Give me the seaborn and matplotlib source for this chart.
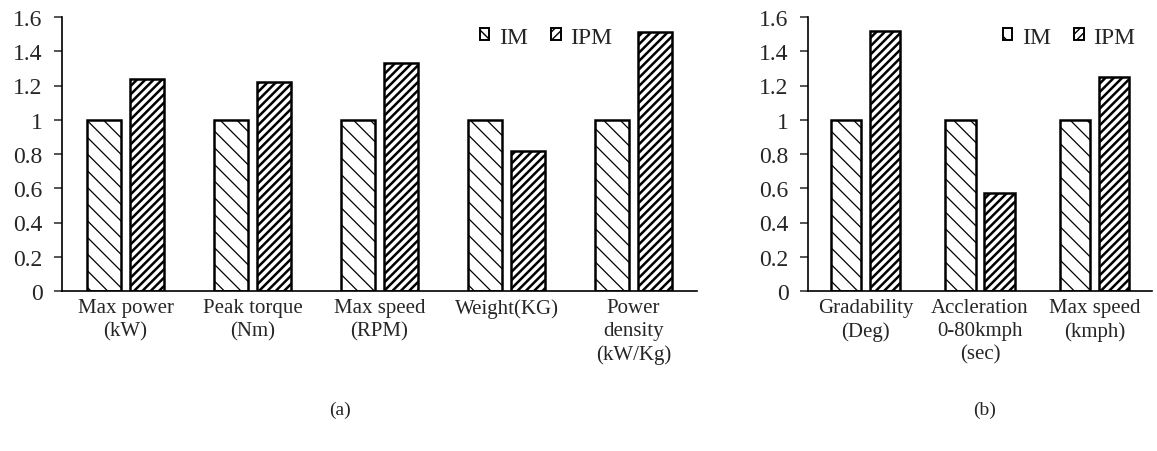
import pandas as pd
import numpy as np
import seaborn as sns
import matplotlib.pyplot as plt
from matplotlib.patches import Patch

#data
cats_a = ["Max power\n(kW)", "Peak torque\n(Nm)", "Max speed\n(RPM)", "Weight(KG)", "Power\ndensity\n(kW/Kg)"]
im_a = [1, 1, 1, 1, 1]
ipm_a = [1.24, 1.22, 1.33, 0.82, 1.51]

cats_b = ["Gradability\n(Deg)", "Accleration\n0-80kmph\n(sec)", "Max speed\n(kmph)"]
im_b = [1, 1, 1]
ipm_b = [1.52, 0.57, 1.25]

motors = ["IM", "IPM"]
yticks = [0, 0.2, 0.4, 0.6, 0.8, 1, 1.2, 1.4, 1.6]
ytick_labels = ["0", "0.2", "0.4", "0.6", "0.8", "1", "1.2", "1.4", "1.6"]

sns.set_style("ticks")
plt.rcParams["font.family"] = ["Liberation Serif", "DejaVu Serif"]
plt.rcParams["hatch.linewidth"] = 1.0

hatches = {"IM": "\\\\", "IPM": "////"}
hatch_lw = {"IM": 0.9, "IPM": 1.8}
hatch_col = {"IM": "#555555", "IPM": "black"}


def style_patch(p, m, lw):
    p.set_facecolor("white")
    p.set_edgecolor("black")
    p.set_linewidth(lw)
    p.set_hatch(hatches[m])
    if hasattr(p, "set_hatch_linewidth"):
        p.set_hatch_linewidth(hatch_lw[m])
    if hasattr(p, "set_hatchcolor"):
        p.set_hatchcolor(hatch_col[m])


def long_df(cats, im, ipm):
    df = pd.DataFrame({"cat": cats * 2, "motor": ["IM"] * len(cats) + ["IPM"] * len(cats), "val": im + ipm})
    return df


def draw(ax, cats, im, ipm, leg_x):
    df = long_df(cats, im, ipm)
    sns.barplot(data=df, x="cat", y="val", hue="motor", order=cats, hue_order=motors,
                width=0.68, gap=0.23, ax=ax, legend=False)
    for cont, m in zip(ax.containers, motors):
        for p in cont:
            style_patch(p, m, 1.8)
    ax.set_ylim(0, 1.6)
    ax.set_xlim(-0.5, len(cats) - 0.5)
    ax.set_yticks(yticks)
    ax.set_yticklabels(ytick_labels)
    ax.set_xlabel("")
    ax.set_ylabel("")
    ax.tick_params(axis="x", length=0, pad=5, labelsize=15)
    ax.tick_params(axis="y", length=6, width=1.1, labelsize=17, pad=8, direction="out")
    for s in ["top", "right"]:
        ax.spines[s].set_visible(False)
    for s in ["left", "bottom"]:
        ax.spines[s].set_linewidth(1.2)
        ax.spines[s].set_color("black")
    for t in ax.get_xticklabels():
        t.set_linespacing(1.3)
    handles = []
    for m in motors:
        h = Patch(label=m)
        style_patch(h, m, 1.4)
        handles.append(h)
    ax.legend(handles=handles, loc="upper right", bbox_to_anchor=(leg_x, 0.965), ncol=2, frameon=False,
              fontsize=17, handlelength=0.4, handleheight=0.4, handletextpad=0.4, columnspacing=1.0,
              borderaxespad=0, borderpad=0)


fig = plt.figure(figsize=(11.57, 4.52), dpi=100)
ax1 = fig.add_axes([62 / 1157, 160 / 452, 635 / 1157, 274 / 452])
ax2 = fig.add_axes([808 / 1157, 160 / 452, 344 / 1157, 274 / 452])

draw(ax1, cats_a, im_a, ipm_a, (612 - 62) / 635)
draw(ax2, cats_b, im_b, ipm_b, (1135 - 808) / 344)

fig.text(340 / 1157, 1 - 410 / 452, "(a)", ha="center", va="center", fontsize=14)
fig.text(985 / 1157, 1 - 410 / 452, "(b)", ha="center", va="center", fontsize=14)

fig.savefig("out.png", dpi=100)
